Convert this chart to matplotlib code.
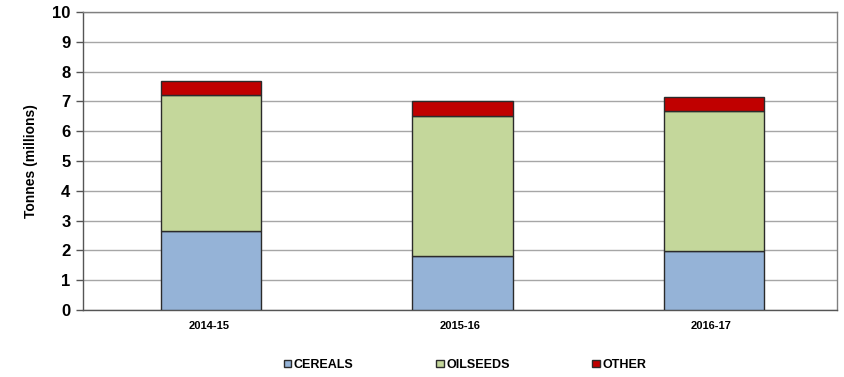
import matplotlib
matplotlib.use("Agg")
import matplotlib.pyplot as plt
import numpy as np

plt.rcParams['font.family'] = ['Liberation Sans', 'DejaVu Sans']

years = ["2014-15", "2015-16", "2016-17"]
cereals = [2.65, 1.81, 1.98]
oilseeds = [4.56, 4.71, 4.69]
other = [0.47, 0.49, 0.48]

fig = plt.figure(figsize=(8.44, 3.77), dpi=100)
ax = fig.add_axes([0.0983, 0.1777, 0.8934, 0.7903])

x = np.arange(len(years))
w = 0.4
edge = dict(edgecolor="#2b2b2b", linewidth=1.0)
b1 = ax.bar(x + 0.01, cereals, w, color="#95B3D7", label="CEREALS", zorder=3, **edge)
base = np.array(cereals)
b2 = ax.bar(x + 0.01, oilseeds, w, bottom=base, color="#C4D79B", label="OILSEEDS", zorder=3, **edge)
base = base + np.array(oilseeds)
b3 = ax.bar(x + 0.01, other, w, bottom=base, color="#C00000", label="OTHER", zorder=3, **edge)

ax.set_xlim(-0.5, 2.5)
ax.set_ylim(0, 10)
ax.set_yticks(range(0, 11))
ax.yaxis.grid(True, color="#a6a6a6", linewidth=1.0, zorder=0)
ax.set_axisbelow(True)
for s in ax.spines.values():
    s.set_color("#808080")
    s.set_linewidth(1.0)
ax.spines['left'].set_color("#555555")
ax.spines['bottom'].set_color("#555555")

ax.set_xticks(x)
ax.set_xticklabels(years, fontsize=8, fontweight="bold")
ax.tick_params(axis="x", length=0, pad=8)
ax.tick_params(axis="y", length=5, width=1, color="#555555", labelsize=12, pad=4)
for t in ax.get_yticklabels():
    t.set_fontweight("bold")
ax.set_ylabel("Tonnes (millions)", fontsize=10, fontweight="bold", labelpad=10)

fig.legend(handles=[b1, b2, b3], loc="center", bbox_to_anchor=(0.551, 0.032), ncol=3,
           frameon=False, prop=dict(size=9, weight="bold"), handlelength=0.6,
           handleheight=0.6, handletextpad=0.2, columnspacing=6.6)

fig.savefig("out.png", dpi=100)
